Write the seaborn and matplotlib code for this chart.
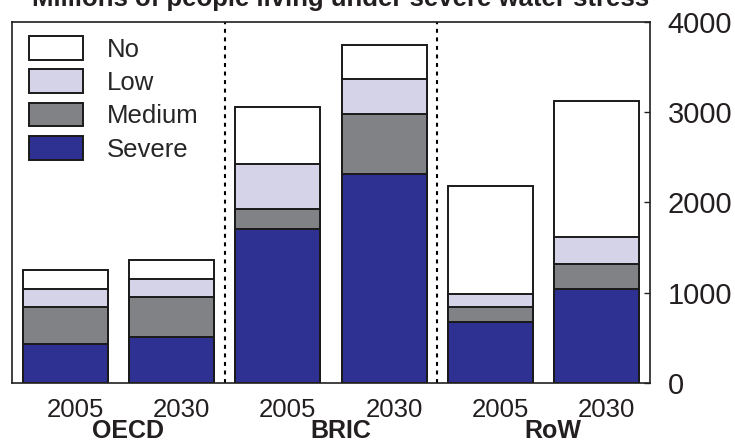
import pandas as pd
import matplotlib
matplotlib.use("Agg")
import matplotlib.pyplot as plt
import matplotlib.transforms as mtransforms
from matplotlib.patches import Patch
import seaborn as sns

# data (millions of people)
REGIONS = ["OECD", "OECD", "BRIC", "BRIC", "RoW", "RoW"]
YEARS = ["2005", "2030", "2005", "2030", "2005", "2030"]
SEVERE = [428, 509, 1705, 2318, 679, 1045]
MEDIUM = [417, 447, 218, 661, 166, 276]
LOW = [192, 199, 502, 386, 141, 296]
NO = [211, 211, 630, 378, 1196, 1509]

GROUP_NAMES = ["OECD", "BRIC", "RoW"]
LEVELS = ["No", "Low", "Medium", "Severe"]
COLORS = {
    "Severe": "#2e3192",
    "Medium": "#808285",
    "Low": "#d4d3e8",
    "No": "#ffffff",
}
INK = "#231f20"

sns.set_theme(style="white")
plt.rcParams["font.family"] = ["Liberation Sans", "DejaVu Sans"]

df = pd.DataFrame({
    "label": [f"{r} {y}" for r, y in zip(REGIONS, YEARS)],
    "Severe": SEVERE,
    "Medium": MEDIUM,
    "Low": LOW,
    "No": NO,
})
# cumulative heights, drawn tallest first so the lower layers sit on top
df["cum_Severe"] = df["Severe"]
df["cum_Medium"] = df["cum_Severe"] + df["Medium"]
df["cum_Low"] = df["cum_Medium"] + df["Low"]
df["cum_No"] = df["cum_Low"] + df["No"]

fig = plt.figure(figsize=(7.35, 4.46), dpi=100)
ax = fig.add_axes([0.0163, 0.1413, 0.8678, 0.8094])

for lvl in LEVELS:
    sns.barplot(data=df, x="label", y=f"cum_{lvl}", order=list(df["label"]),
                color=COLORS[lvl], saturation=1, edgecolor="#1a1a1a",
                linewidth=1.4, width=0.8, errorbar=None, ax=ax)

# dashed separators between regions
for xpos in [1.5, 3.5]:
    ax.axvline(xpos, color="black", lw=1.5, ls=(0, (1.9, 2.2)), zorder=0)

ax.set_xlim(-0.5, 5.5)
ax.set_ylim(0, 4000)
ax.set_xlabel("")
ax.set_ylabel("")
ax.set_xticks(range(6))
ax.set_xticklabels(YEARS, fontsize=18.5)
ax.tick_params(axis="x", length=0, pad=11, colors=INK)
# year labels sit a little right of the bar centres in the original
shift = mtransforms.ScaledTranslation(10 / 100, 0, fig.dpi_scale_trans)
for lab in ax.get_xticklabels():
    lab.set_transform(lab.get_transform() + shift)

ax.yaxis.tick_right()
ax.set_yticks([0, 1000, 2000, 3000, 4000])
ax.tick_params(axis="y", direction="in", length=4, width=1, right=True,
               left=False, labelsize=21, pad=13, colors=INK)
for sp in ax.spines.values():
    sp.set_visible(True)
    sp.set_color(INK)
    sp.set_linewidth(1.2)

# region names under the years
for i, name in enumerate(GROUP_NAMES):
    ax.text(2 * i + 0.5 + 0.09, -0.132, name, transform=ax.get_xaxis_transform(),
            ha="center", va="center", fontsize=18, fontweight="bold",
            color=INK)

handles = [Patch(facecolor=COLORS[l], edgecolor="#1a1a1a", linewidth=1.4, label=l)
           for l in LEVELS]
ax.legend(handles=handles, loc="upper left", frameon=False, fontsize=18.5,
          handlelength=2.1, handleheight=1.05, labelspacing=0.3,
          handletextpad=0.95, borderaxespad=0, bbox_to_anchor=(0.01, 0.99))

fig.text(0.463, 0.987, "Millions of people living under severe water stress",
         ha="center", va="baseline", fontsize=18.5, fontweight="bold",
         color=INK)

fig.savefig("out.png", dpi=100)
